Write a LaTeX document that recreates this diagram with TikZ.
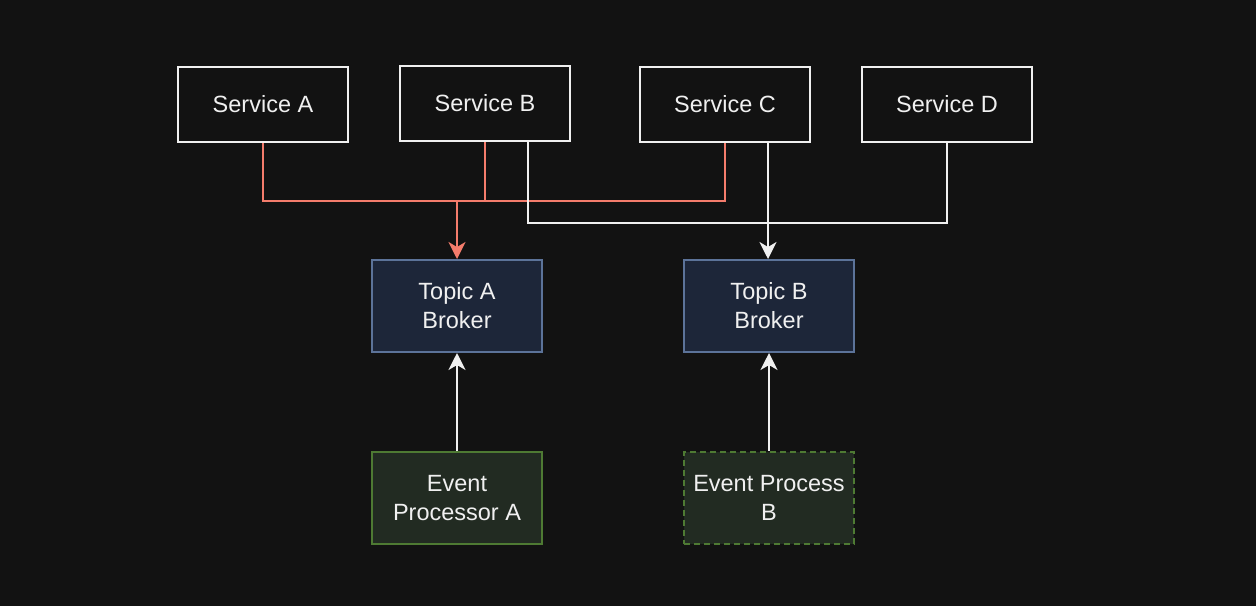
\documentclass[tikz,border=0pt]{standalone}
\usepackage{fontspec}
\setmainfont{Liberation Sans}
\usetikzlibrary{arrows.meta,calc}
\definecolor{bg}{HTML}{121212}
\definecolor{txt}{HTML}{F0F0F0}
\definecolor{topicfill}{HTML}{1D2639}
\definecolor{topicdraw}{HTML}{5C7399}
\definecolor{evfill}{HTML}{222B22}
\definecolor{evdraw}{HTML}{4E7A33}
\definecolor{redl}{HTML}{F47C6C}
\begin{document}
\begin{tikzpicture}[x=1pt,y=-1pt,
  box/.style={rectangle, draw=txt, fill=bg, line width=2pt, inner sep=0pt,
    minimum width=170pt, text=txt, align=center,
    font=\fontsize{23.5pt}{29pt}\selectfont},
  svc/.style={box, minimum height=75pt},
  topic/.style={box, draw=topicdraw, fill=topicfill, minimum height=92pt},
  evp/.style={box, draw=evdraw, fill=evfill, minimum height=92pt},
  conn/.style={line width=2pt, draw=txt},
  redconn/.style={line width=2pt, draw=redl},
  tip/.style={-{Stealth[length=17pt,width=17pt,inset=5pt]}}
]
\fill[bg] (0,0) rectangle (1256,606);
\useasboundingbox (0,0) rectangle (1256,606);

\node[svc] (sa) at (263,104.5) {Service A};
\node[svc] (sb) at (485,103.5) {Service B};
\node[svc] (sc) at (725,104) {Service C};
\node[svc] (sd) at (947,104) {Service D};

\node[topic] (ta) at (457,306) {Topic A\\Broker};
\node[topic] (tb) at (769,306) {Topic B\\Broker};

\node[evp] (ea) at (457,498) {Event\\Processor A};
\node[evp, dashed, dash pattern=on 6pt off 4pt] (eb) at (769,498) {Event Process\\B};

\coordinate (ja) at (457,201);
\coordinate (jb) at (768,223);
\coordinate (b2) at ($(sb.south)!0.5!(sb.south east)$);
\coordinate (c2) at ($(sc.south)!0.5!(sc.south east)$);

% red connectors to Topic A
\draw[redconn] (sa.south) |- (ja) -| (sc.south);
\draw[redconn] (sb.south) -- (sb.south |- ja);
\draw[redconn, tip] (ja) -- (ta.north);

% white connectors to Topic B
\draw[conn] (b2) |- (jb) -| (sd.south);
\draw[conn, tip] (c2) -- (c2 |- tb.north);

% processors to brokers
\draw[conn, tip] (ea.north) -- (ta.south);
\draw[conn, tip] (eb.north) -- (tb.south);
\end{tikzpicture}
\end{document}
